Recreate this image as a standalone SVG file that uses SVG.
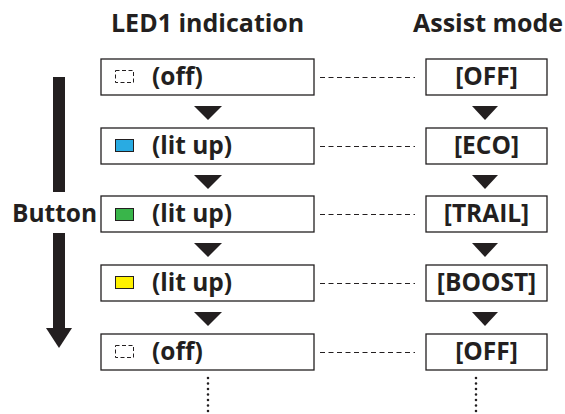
<svg xmlns="http://www.w3.org/2000/svg" width="565" height="414" viewBox="0 0 565 414">
<style>
.t{font-family:"Open Sans","Liberation Sans",sans-serif;font-weight:bold;fill:#231f20}
.h{font-size:25px}
.b{font-size:24.5px}
.box{fill:#fff;stroke:#231f20;stroke-width:1.3}
.dash{stroke:#231f20;stroke-width:1;stroke-dasharray:5 3.5;fill:none}
.dot{stroke:#231f20;stroke-width:2.6;stroke-dasharray:0 5.5;stroke-linecap:round;fill:none}
.tri{fill:#231f20}
.led{stroke:#231f20;stroke-width:1}
.ledoff{fill:none;stroke:#231f20;stroke-width:1;stroke-dasharray:4 2.5}
</style>
<text class="t h" x="111" y="32">LED1 indication</text>
<text class="t h" x="413" y="32">Assist mode</text>
<g id="button">
<rect x="53" y="77" width="12" height="115" fill="#231f20"/>
<rect x="53" y="233" width="12" height="95" fill="#231f20"/>
<polygon points="46,328 72,328 59,348" fill="#231f20"/>
<text class="t b" x="12" y="222">Button</text>
</g>
<g id="connectors">
<line class="dash" x1="320" y1="77.5" x2="415" y2="77.5"/>
<line class="dash" x1="320" y1="146.5" x2="415" y2="146.5"/>
<line class="dash" x1="320" y1="214.5" x2="415" y2="214.5"/>
<line class="dash" x1="320" y1="283.5" x2="415" y2="283.5"/>
<line class="dash" x1="320" y1="352.5" x2="415" y2="352.5"/>
<polygon class="tri" points="194,106 222,106 208,120"/>
<polygon class="tri" points="194,175 222,175 208,189"/>
<polygon class="tri" points="194,243 222,243 208,257"/>
<polygon class="tri" points="194,312 222,312 208,326"/>
<polygon class="tri" points="472,106 498,106 485,120"/>
<polygon class="tri" points="472,175 498,175 485,189"/>
<polygon class="tri" points="472,243 498,243 485,257"/>
<polygon class="tri" points="472,312 498,312 485,326"/>
<line class="dot" x1="208" y1="378" x2="208" y2="412"/>
<line class="dot" x1="476" y1="378" x2="476" y2="412"/>
</g>
<g id="led-off-1">
<rect class="box" x="101" y="59" width="213" height="36"/>
<rect class="ledoff" x="115.5" y="70.5" width="18" height="12"/>
<text class="t b" x="152" y="85">(off)</text>
</g>
<g id="led-blue">
<rect class="box" x="101" y="128" width="213" height="36"/>
<rect class="led" x="115.5" y="139.5" width="18" height="12" fill="#29abe2"/>
<text class="t b" x="152" y="154">(lit up)</text>
</g>
<g id="led-green">
<rect class="box" x="101" y="196" width="213" height="36"/>
<rect class="led" x="115.5" y="208.5" width="18" height="12" fill="#39b54a"/>
<text class="t b" x="152" y="222">(lit up)</text>
</g>
<g id="led-yellow">
<rect class="box" x="101" y="265" width="213" height="36"/>
<rect class="led" x="115.5" y="276.5" width="18" height="12" fill="#fff200"/>
<text class="t b" x="152" y="291">(lit up)</text>
</g>
<g id="led-off-2">
<rect class="box" x="101" y="334" width="213" height="36"/>
<rect class="ledoff" x="115.5" y="345.5" width="18" height="12"/>
<text class="t b" x="152" y="360">(off)</text>
</g>
<g id="mode-off-1">
<rect class="box" x="426" y="59" width="121" height="36"/>
<text class="t b" x="486.5" y="85" text-anchor="middle">[OFF]</text>
</g>
<g id="mode-eco">
<rect class="box" x="426" y="128" width="121" height="36"/>
<text class="t b" x="486.5" y="154" text-anchor="middle">[ECO]</text>
</g>
<g id="mode-trail">
<rect class="box" x="426" y="196" width="121" height="36"/>
<text class="t b" x="486.5" y="222" text-anchor="middle">[TRAIL]</text>
</g>
<g id="mode-boost">
<rect class="box" x="426" y="265" width="121" height="36"/>
<text class="t b" x="486.5" y="291" text-anchor="middle">[BOOST]</text>
</g>
<g id="mode-off-2">
<rect class="box" x="426" y="334" width="121" height="36"/>
<text class="t b" x="486.5" y="360" text-anchor="middle">[OFF]</text>
</g>
</svg>
